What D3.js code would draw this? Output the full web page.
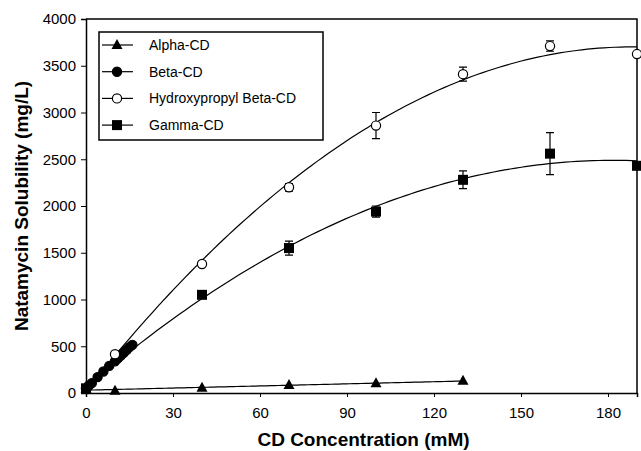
<!DOCTYPE html>
<html>
<head>
<meta charset="utf-8">
<script src="https://cdn.jsdelivr.net/npm/d3@7"></script>
<style>
  body { margin: 0; background: #fff; }
  text { font-family: "Liberation Sans", Arial, sans-serif; }
</style>
</head>
<body>
<script>
var width = 641;
var height = 451;
var margin = {top: 19, right: 4, bottom: 58, left: 86};

// data: [CD concentration (mM), solubility (mg/L), error]
var alphaCD = [[0, 45, 0], [10, 25, 0], [40, 55, 0], [70, 85, 0], [100, 105, 0], [130, 130, 0]];
var betaCD = [[0, 50, 0], [1, 80, 0], [2, 105, 0], [4, 170, 0], [6, 230, 0], [8, 290, 0],
  [10, 340, 0], [11, 370, 0], [12, 400, 0], [13, 430, 0], [14, 460, 0], [15, 490, 0], [16, 515, 0]];
var hpBetaCD = [[0, 50, 0], [10, 415, 0], [40, 1380, 20], [70, 2200, 40], [100, 2860, 140],
  [130, 3410, 75], [160, 3710, 55], [190, 3625, 0]];
var gammaCD = [[0, 50, 0], [40, 1050, 20], [70, 1550, 75], [100, 1940, 60], [130, 2280, 95],
  [160, 2560, 225], [190, 2430, 0]];

var seriesNames = ["Alpha-CD", "Beta-CD", "Hydroxypropyl Beta-CD", "Gamma-CD"];
var xTicks = [0, 30, 60, 90, 120, 150, 180];
var yTicks = [0, 500, 1000, 1500, 2000, 2500, 3000, 3500, 4000];

var series = [
  {name: seriesNames[0], data: alphaCD, shape: "triangle", fill: "#000", deg: 1},
  {name: seriesNames[1], data: betaCD, shape: "circle", fill: "#000", deg: 1},
  {name: seriesNames[2], data: hpBetaCD, shape: "circle", fill: "#fff", deg: 2},
  {name: seriesNames[3], data: gammaCD, shape: "square", fill: "#000", deg: 2}
];

var x = d3.scaleLinear().domain([0, 190]).range([margin.left, width - margin.right]);
var y = d3.scaleLinear().domain([0, 4000]).range([height - margin.bottom, margin.top]);

var svg = d3.select("body").append("svg")
  .attr("width", width)
  .attr("height", height);

// least squares polynomial fit (degree 1 or 2) -> coefficients
function polyfit(pts, deg) {
  var n = deg + 1;
  var A = [], b = [];
  for (var i = 0; i < n; i++) {
    A.push([]);
    b.push(d3.sum(pts, function (p) { return p[1] * Math.pow(p[0], i); }));
    for (var j = 0; j < n; j++) {
      A[i].push(d3.sum(pts, function (p) { return Math.pow(p[0], i + j); }));
    }
  }
  // gaussian elimination
  for (var k = 0; k < n; k++) {
    for (var r = k + 1; r < n; r++) {
      var f = A[r][k] / A[k][k];
      for (var c = k; c < n; c++) A[r][c] -= f * A[k][c];
      b[r] -= f * b[k];
    }
  }
  var coef = new Array(n);
  for (var k2 = n - 1; k2 >= 0; k2--) {
    var s = b[k2];
    for (var c2 = k2 + 1; c2 < n; c2++) s -= A[k2][c2] * coef[c2];
    coef[k2] = s / A[k2][k2];
  }
  return coef;
}

var line = d3.line().x(function (d) { return x(d[0]); }).y(function (d) { return y(d[1]); });

// fit curves
series.forEach(function (s) {
  var coef = polyfit(s.data, s.deg);
  var x0 = d3.min(s.data, function (d) { return d[0]; });
  var x1 = d3.max(s.data, function (d) { return d[0]; });
  var pts = d3.range(0, 101).map(function (i) {
    var xv = x0 + (x1 - x0) * i / 100;
    var yv = 0;
    coef.forEach(function (c, k) { yv += c * Math.pow(xv, k); });
    return [xv, yv];
  });
  svg.append("path")
    .attr("d", line(pts))
    .attr("fill", "none")
    .attr("stroke", "#000")
    .attr("stroke-width", 1.2);
});

// axes
var xAxis = svg.append("g")
  .attr("transform", "translate(0," + (height - margin.bottom) + ")")
  .call(d3.axisBottom(x).tickValues(xTicks).tickFormat(d3.format("d")).tickSize(4).tickPadding(10));
var yAxis = svg.append("g")
  .attr("transform", "translate(" + margin.left + ",0)")
  .call(d3.axisLeft(y).tickValues(yTicks).tickFormat(d3.format("d")).tickSize(5).tickPadding(5));
[xAxis, yAxis].forEach(function (g) {
  g.select(".domain").attr("stroke-width", 1.5);
  g.selectAll("text").style("font-size", "15px").attr("fill", "#000")
    .style("font-family", "'Liberation Sans', Arial, sans-serif");
});

// frame top/right
svg.append("path")
  .attr("d", "M" + x(0) + "," + y(4000) + "H" + x(190) + "V" + y(0))
  .attr("fill", "none").attr("stroke", "#000").attr("stroke-width", 1.5);

function marker(g, shape, fill) {
  if (shape === "circle") {
    g.append("circle").attr("r", 4.6).attr("fill", fill).attr("stroke", "#000").attr("stroke-width", 1.2);
  } else if (shape === "square") {
    g.append("rect").attr("x", -5).attr("y", -5).attr("width", 10).attr("height", 10).attr("fill", fill);
  } else {
    g.append("path").attr("d", "M0,-6L5.5,4L-5.5,4Z").attr("fill", fill);
  }
}

// error bars and markers
series.forEach(function (s) {
  s.data.forEach(function (d) {
    if (d[2] > 0) {
      var cx = x(d[0]), ya = y(d[1] - d[2]), yb = y(d[1] + d[2]);
      svg.append("path")
        .attr("d", "M" + cx + "," + ya + "V" + yb +
          "M" + (cx - 4) + "," + ya + "H" + (cx + 4) +
          "M" + (cx - 4) + "," + yb + "H" + (cx + 4))
        .attr("stroke", "#000").attr("stroke-width", 1.2).attr("fill", "none");
    }
    var g = svg.append("g").attr("transform", "translate(" + x(d[0]) + "," + y(d[1]) + ")");
    marker(g, s.shape, s.fill);
  });
});

// legend
var legend = svg.append("g").attr("transform", "translate(99,32)");
legend.append("rect")
  .attr("width", 224).attr("height", 108)
  .attr("fill", "#fff").attr("stroke", "#000").attr("stroke-width", 1.5);
series.forEach(function (s, i) {
  var ly = 13 + i * 26.7;
  legend.append("line").attr("x1", 3).attr("x2", 34).attr("y1", ly).attr("y2", ly)
    .attr("stroke", "#000").attr("stroke-width", 1.2);
  var g = legend.append("g").attr("transform", "translate(18," + ly + ")");
  marker(g, s.shape, s.fill);
  legend.append("text").attr("x", 50).attr("y", ly + 5)
    .style("font-size", "14px").text(s.name);
});

// axis titles
svg.append("text")
  .attr("x", (margin.left + width - margin.right) / 2 + 2)
  .attr("y", 446)
  .attr("text-anchor", "middle")
  .style("font-size", "19px").style("font-weight", "bold")
  .text("CD Concentration (mM)");
svg.append("text")
  .attr("transform", "translate(28," + ((margin.top + height - margin.bottom) / 2) + ") rotate(-90)")
  .attr("text-anchor", "middle")
  .style("font-size", "19px").style("font-weight", "bold")
  .text("Natamycin Solubility (mg/L)");
</script>
</body>
</html>
